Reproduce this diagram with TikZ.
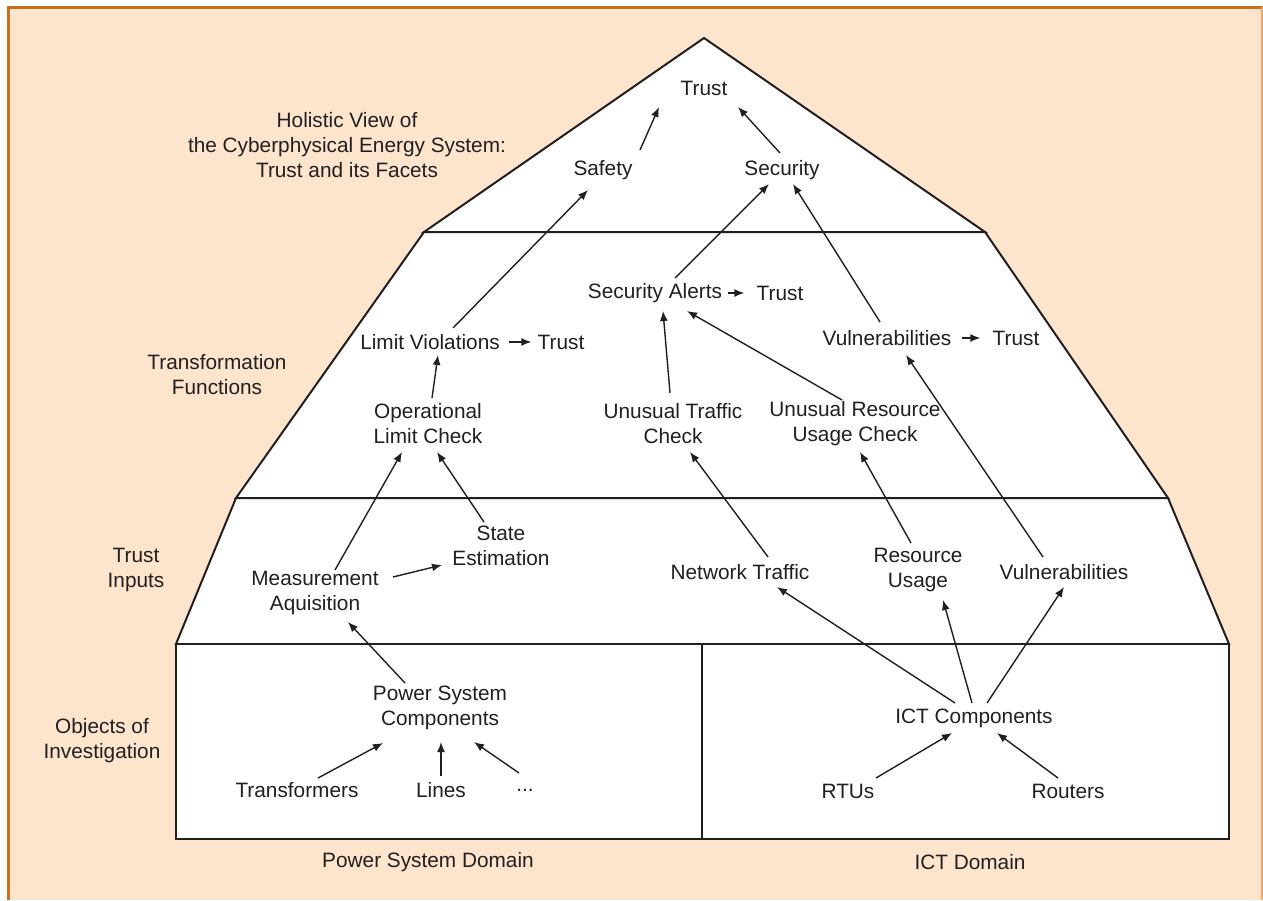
\documentclass[tikz,border=0pt]{standalone}
\usepackage{fontspec}
\setmainfont{Liberation Sans}
\usepackage{xcolor}
\usetikzlibrary{arrows.meta}
\definecolor{peach}{HTML}{FDE4CC}
\definecolor{rim}{HTML}{C8701E}
\definecolor{rimlight}{HTML}{EBA96B}
\definecolor{ink}{HTML}{231F20}

\begin{document}
\begin{tikzpicture}[x=0.5pt,y=-0.5pt,
  every node/.style={font=\fontsize{10.4}{12.5}\selectfont,text=ink,inner sep=3pt,align=center},
  arr/.style={-{Latex[length=5pt,width=4pt]},line width=0.7pt,draw=ink},
  layer/.style={fill=white,draw=ink,line width=1pt}]
\useasboundingbox (0,0) rectangle (1263,900);
\fill[white] (0,0) rectangle (1263,900);
\fill[peach] (8,7) rectangle (1263,900);
\draw[rim,line width=1.5pt] (8,900) -- (8,7) -- (1263,7);
\draw[rimlight,line width=0.6pt] (1262,7) -- (1262,900);
\draw[layer] (704,38) -- (985,232) -- (424,232) -- cycle;
\draw[layer] (424,232) -- (985,232) -- (1168,498) -- (236,498) -- cycle;
\draw[layer] (236,498) -- (1168,498) -- (1229,644) -- (176,644) -- cycle;
\draw[layer] (176,644) rectangle (1229,839);
\draw[ink,line width=1pt] (702,644) -- (702,839);

\node (facets) at (347,145) {Holistic View of\\the Cyberphysical Energy System:\\Trust and its Facets};
\node (functions) at (217,375) {Transformation\\Functions};
\node (inputs) at (136,570) {Trust\\Inputs};
\node (objects) at (102,741) {Objects of\\Investigation};

\node (trust) at (704,88) {Trust};
\node (safety) at (603,170) {Safety};
\node (security) at (782,170) {Security};
\node (violations) at (430,342) {Limit Violations};
\node (violtrust) at (561,342) {Trust};
\node (alerts) at (655,293) {Security Alerts};
\node (alerttrust) at (780,293) {Trust};
\node (vulncheck) at (887,338) {Vulnerabilities};
\node (vulntrust) at (1016,338) {Trust};
\node (limitcheck) at (428,424) {Operational\\Limit Check};
\node (trafficcheck) at (673,424) {Unusual Traffic\\Check};
\node (resourcecheck) at (855,424) {Unusual Resource\\Usage Check};
\node (estimation) at (501,546) {State\\Estimation};
\node (measurement) at (315,593) {Measurement\\Aquisition};
\node (traffic) at (740,572) {Network Traffic};
\node (usage) at (918,570) {Resource\\Usage};
\node (vulns) at (1064,572) {Vulnerabilities};
\node (powercomp) at (440,708) {Power System\\Components};
\node (transformers) at (297,790) {Transformers};
\node (lines) at (441,790) {Lines};
\node (dots) at (525,790) {...};
\node (ictcomp) at (974,718) {ICT Components};
\node (rtus) at (848,791) {RTUs};
\node (routers) at (1068,791) {Routers};
\node (powerdom) at (428,862) {Power System Domain};
\node (ictdom) at (970,862) {ICT Domain};

\draw[arr] ([shift={(37,-20)}]safety.center) -- ([shift={(-45,19)}]trust.center);
\draw[arr] ([shift={(-2,-17)}]security.center) -- ([shift={(34,19)}]trust.center);
\draw[arr] ([shift={(23,-14)}]violations.center) -- ([shift={(-15,20)}]safety.center);
\draw[arr] ([shift={(20,-15)}]alerts.center) -- ([shift={(-13,14)}]security.center);
\draw[arr] ([shift={(-7,-16)}]vulncheck.center) -- ([shift={(11,14)}]security.center);
\draw[arr,shorten <=1.5pt] (violations.east) -- (violtrust.west);
\draw[arr,shorten >=3pt] (alerts.east) -- (alerttrust.west);
\draw[arr,shorten <=2pt,shorten >=3pt] (vulncheck.east) -- (vulntrust.west);
\draw[arr] ([shift={(4,-26)}]limitcheck.center) -- ([shift={(8,13)}]violations.center);
\draw[arr] ([shift={(-3,-31)}]trafficcheck.center) -- ([shift={(8,18)}]alerts.center);
\draw[arr] ([shift={(-13,-24)}]resourcecheck.center) -- ([shift={(32,18)}]alerts.center);
\draw[arr] ([shift={(20,-23)}]measurement.center) -- ([shift={(-26,28)}]limitcheck.center);
\draw[arr] ([shift={(-17,-24)}]estimation.center) -- ([shift={(9,28)}]limitcheck.center);
\draw[arr] ([shift={(78,-16)}]measurement.center) -- ([shift={(-59,19)}]estimation.center);
\draw[arr] ([shift={(28,-15)}]traffic.center) -- ([shift={(17,28)}]trafficcheck.center);
\draw[arr] ([shift={(-7,-27)}]usage.center) -- ([shift={(5,28)}]resourcecheck.center);
\draw[arr] ([shift={(-21,-15)}]vulns.center) -- ([shift={(19,17)}]vulncheck.center);
\draw[arr] ([shift={(-35,-25)}]powercomp.center) -- ([shift={(33,29)}]measurement.center);
\draw[arr] ([shift={(21,-12)}]transformers.center) -- ([shift={(-57,35)}]powercomp.center);
\draw[arr] ([shift={(0,-14)}]lines.center) -- ([shift={(1,34)}]powercomp.center);
\draw[arr] ([shift={(-6,-17)}]dots.center) -- ([shift={(34,34)}]powercomp.center);
\draw[arr] ([shift={(-19,-15)}]ictcomp.center) -- ([shift={(37,15)}]traffic.center);
\draw[arr] ([shift={(-2,-15)}]ictcomp.center) -- ([shift={(25,30)}]usage.center);
\draw[arr] ([shift={(13,-15)}]ictcomp.center) -- ([shift={(0,15)}]vulns.center);
\draw[arr] ([shift={(28,-13)}]rtus.center) -- ([shift={(-22,15)}]ictcomp.center);
\draw[arr] ([shift={(-10,-13)}]routers.center) -- ([shift={(23,15)}]ictcomp.center);
\end{tikzpicture}
\end{document}
